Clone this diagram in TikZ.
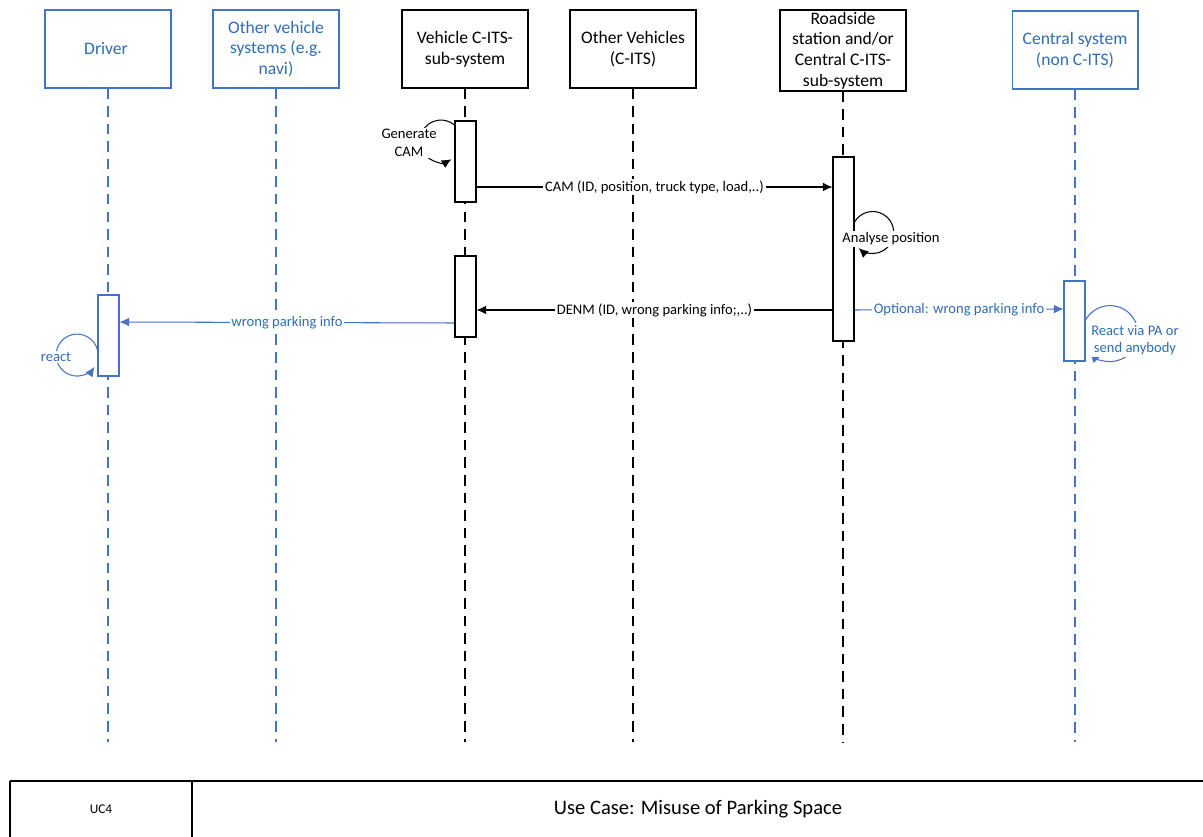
\documentclass[tikz,border=0pt]{standalone}
\usepackage{fontspec}
\setmainfont{Carlito}
\usepackage{tikz}
\usetikzlibrary{arrows.meta,positioning}
\definecolor{lineblue}{HTML}{4472C4}
\definecolor{textblue}{HTML}{2E6DB8}

\begin{document}
\begin{tikzpicture}[x=0.02cm,y=0.02cm]
\tikzstyle{head}=[rectangle, draw=black, fill=white, line width=0.6pt,
	minimum width=2.52cm, minimum height=1.56cm,
	align=center, font=\fontsize{10}{11.8}\selectfont, inner sep=1pt]
\tikzstyle{bhead}=[head, draw=lineblue, text=textblue]
\tikzstyle{life}=[dash pattern=on 6pt off 4pt, line width=0.7pt]
\tikzstyle{blife}=[life, draw=lineblue]
\tikzstyle{act}=[rectangle, draw=black, fill=white, line width=0.6pt,
	minimum width=0.42cm, minimum height=1.62cm, inner sep=0pt]
\tikzstyle{bact}=[act, draw=lineblue]
\tikzstyle{msg}=[-{Latex[length=5.5pt,width=5pt]}, line width=0.6pt]
\tikzstyle{bmsg}=[msg, draw=lineblue]
\tikzstyle{lbl}=[fill=white, inner sep=1pt, font=\fontsize{8.3}{10}\selectfont]
\tikzstyle{blbl}=[lbl, text=textblue]

\useasboundingbox (0,0) rectangle (1203,-837);

% lifeline heads
\node[bhead] (drv) at (108,-49) { Driver };
\node[bhead] (navi) at (276,-49) { Other vehicle\\systems (e.g.\\navi) };
\node[head] (veh) at (465,-49) { Vehicle C-ITS-\\sub-system };
\node[head] (oth) at (633,-49) { Other Vehicles\\(C-ITS) };
\node[head, minimum height=1.62cm] (rsu) at (843,-50.5) { Roadside\\station and/or\\Central C-ITS-\\sub-system };
\node[bhead] (cen) at (1075,-50) { Central system\\(non C-ITS) };

\coordinate (bot) at (0,-742);
\draw[blife] (drv) -- (drv |- bot);
\draw[blife] (navi) -- (navi |- bot);
\draw[life] (veh) -- (veh |- bot);
\draw[life] (oth) -- (oth |- bot);
\draw[life] (rsu) -- (rsu |- bot);
\draw[blife] (cen) -- (cen |- bot);

% activations
\node[act] (vact1) at (465.5,-161.5) {};
\node[act] (vact2) at (465.5,-296.5) {};
\node[act, minimum height=3.68cm] (ract) at (843.5,-249) {};
\node[bact, minimum height=1.6cm] (cact) at (1074.5,-321) {};
\node[bact] (dact) at (108.5,-335.5) {};

% self calls
\draw[msg] (vact1.west |- 0,-125) arc[start angle=50, end angle=300, radius=21];
\node[lbl, align=center] (gen) at (409,-143) { Generate\\CAM };
\draw[msg] (ract.east |- 0,-222) arc[start angle=150, end angle=-132, radius=21];
\node[lbl] (ana) at (891,-239) { Analyse position };
\draw[bmsg] (cact.east |- 0,-320) arc[start angle=151, end angle=-136, radius=28];
\node[blbl, align=center] (rea) at (1135,-340) { React via PA or\\send anybody };
\draw[bmsg] (dact.west |- 0,-350) arc[start angle=14, end angle=326, radius=21];
\node[blbl] (drea) at (56,-357) { react };

% messages
\draw[msg] (vact1.east |- 0,-187) -- node[lbl] (cam) { CAM (ID, position, truck type, load,..) } (ract.west |- 0,-187);
\draw[msg] (ract.west |- 0,-310) -- node[lbl] (denm) { DENM (ID, wrong parking info;,..) } (vact2.east |- 0,-310);
\draw[bmsg] (vact2.west |- 0,-323) -- node[blbl] (wpi) { wrong parking info } (dact.east |- 0,-322);
\draw[bmsg] (ract.east |- 0,-310) -- node[blbl] (opt) { Optional: wrong parking info } (cact.west |- 0,-309);

% use case footer
\draw[line width=1.5pt] (10,-781) -- (1203,-781);
\draw[line width=1pt] (10,-781) -- (10,-837);
\draw[line width=1pt] (192,-781) -- (192,-837);
\node[font=\fontsize{7.6}{9}\selectfont] (uc) at (101,-809) { UC4 };
\node[font=\fontsize{11.7}{14}\selectfont] (title) at (698,-809) { Use Case: Misuse of Parking Space };

\end{tikzpicture}
\end{document}
